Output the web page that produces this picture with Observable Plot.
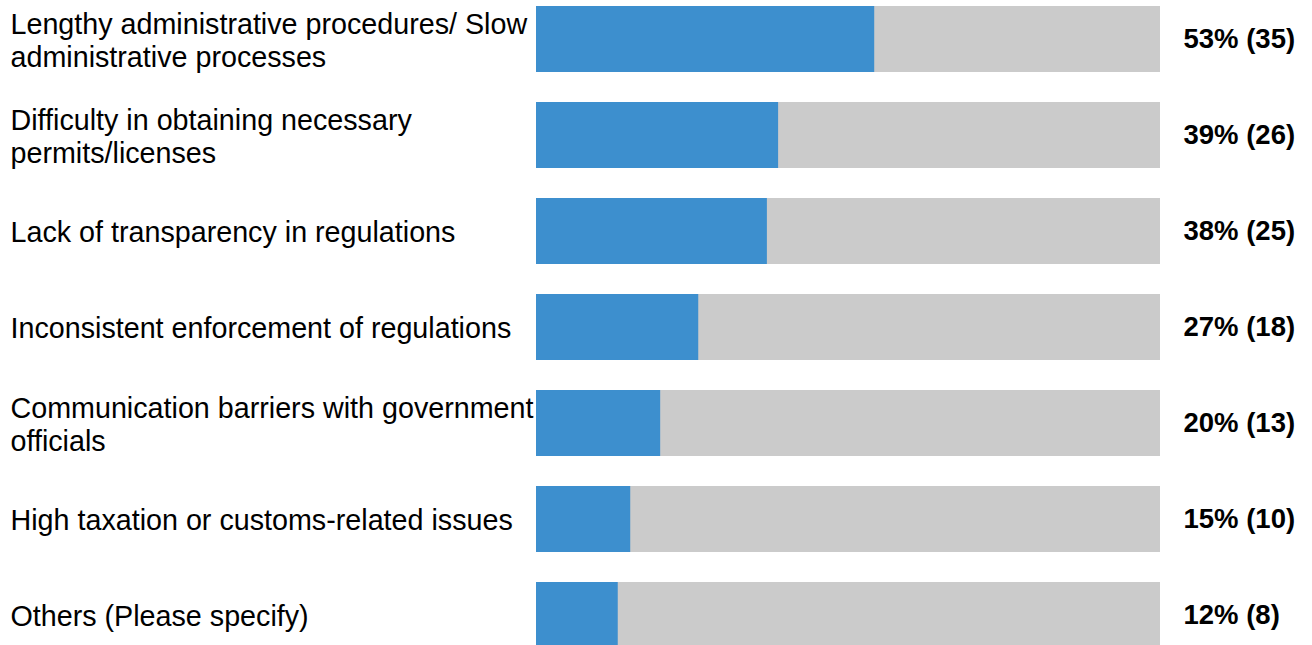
<!DOCTYPE html>
<html>
<head>
<meta charset="utf-8">
<script src="https://cdn.jsdelivr.net/npm/d3@7"></script>
<script src="https://cdn.jsdelivr.net/npm/@observablehq/plot@0.6"></script>
<style>
  html, body { margin: 0; padding: 0; background: #fff; }
  #chart svg { display: block; }
</style>
</head>
<body>
<div id="chart"></div>
<script>
const categories = [
  "Lengthy administrative procedures/ Slow\nadministrative processes",
  "Difficulty in obtaining necessary\npermits/licenses",
  "Lack of transparency in regulations",
  "Inconsistent enforcement of regulations",
  "Communication barriers with government\nofficials",
  "High taxation or customs-related issues",
  "Others (Please specify)"
];
// bar lengths as drawn (% of respondents)
const shares = [54.2, 38.8, 37.0, 26.0, 19.9, 15.1, 13.1];
const percentLabels = [53, 39, 38, 27, 20, 15, 12];
const counts = [35, 26, 25, 18, 13, 10, 8];

const data = categories.map((c, i) => ({
  category: c,
  share: shares[i],
  label: `${percentLabels[i]}% (${counts[i]})`
}));

const chart = Plot.plot({
  width: 1312,
  height: 645,
  marginLeft: 536,
  marginRight: 152,
  marginTop: 5,
  marginBottom: 0,
  style: { fontFamily: "'Liberation Sans', Arial, Helvetica, sans-serif", color: "#000", background: "#fff" },
  x: { domain: [0, 100], axis: null },
  y: { domain: categories, axis: null, paddingInner: 0.308, paddingOuter: 0, range: [5, 649.6] },
  marks: [
    Plot.barX(data, { y: "category", x: () => 100, fill: "#cbcbcb" }),
    Plot.barX(data, { y: "category", x: "share", fill: "#3d8fce" }),
    Plot.text(data, {
      y: "category", x: () => 0, text: "category", textAnchor: "start",
      dx: -526, fontSize: 28.7, lineHeight: 1.15, fill: "#000"
    }),
    Plot.text(data, {
      y: "category", x: () => 100, text: "label", textAnchor: "start",
      dx: 23, fontSize: 27.5, fontWeight: "bold", fill: "#000"
    })
  ]
});
document.getElementById("chart").appendChild(chart);
</script>
</body>
</html>
